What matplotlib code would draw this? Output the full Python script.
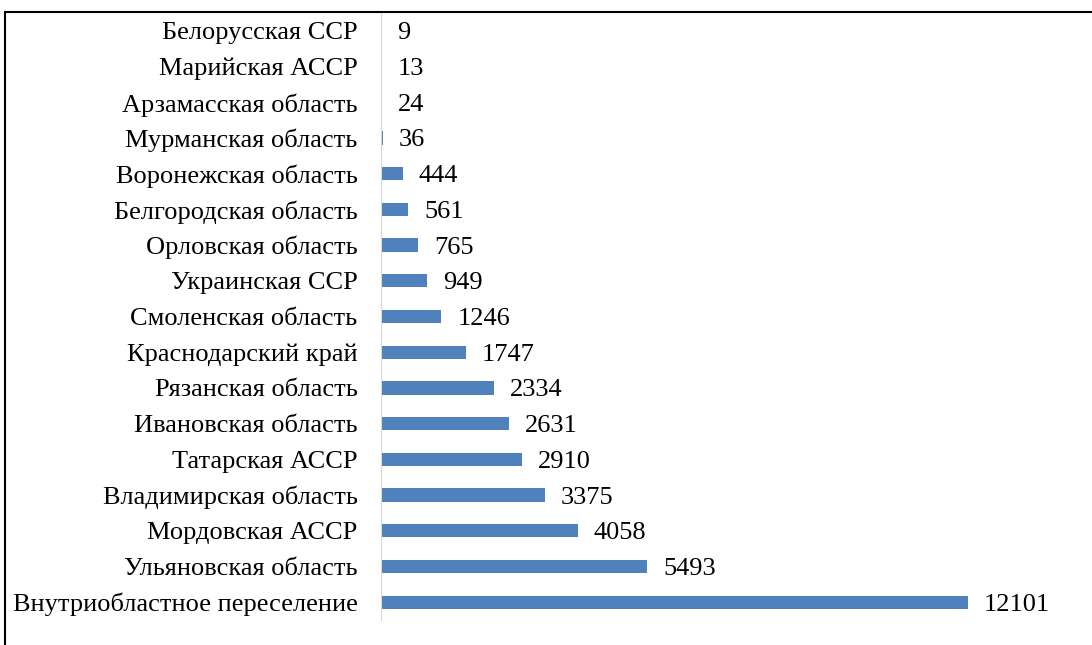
import matplotlib
matplotlib.use('Agg')
import matplotlib.pyplot as plt
from matplotlib.lines import Line2D

plt.rcParams['font.family'] = ['Liberation Serif', 'DejaVu Serif']

regions = ['Внутриобластное переселение', 'Ульяновская область', 'Мордовская АССР',
           'Владимирская область', 'Татарская АССР', 'Ивановская область',
           'Рязанская область', 'Краснодарский край', 'Смоленская область',
           'Украинская ССР', 'Орловская область', 'Белгородская область',
           'Воронежская область', 'Мурманская область', 'Арзамасская область',
           'Марийская АССР', 'Белорусская ССР']
values = [12101, 5493, 4058, 3375, 2910, 2631, 2334, 1747, 1246, 949, 765, 561,
          444, 36, 24, 13, 9]

fig = plt.figure(figsize=(10.92, 6.45), dpi=100)
ax = fig.add_axes([381/1092, 25/645, (1085-381)/1092, 607/645])

y = range(len(regions))
ax.barh(y, values, height=0.37, color='#4F81BD')
for i, v in enumerate(values):
    ax.text(v + 330, i, str(v), va='center_baseline', ha='left', fontsize=19)

ax.set_xlim(0, 14515)
ax.set_ylim(-0.5, len(regions) - 0.5)
ax.set_yticks(list(y))
ax.set_yticklabels(regions, fontsize=19, va='center_baseline')
ax.tick_params(axis='y', length=0, pad=17)
ax.set_xticks([])
for s in ['top', 'right', 'bottom']:
    ax.spines[s].set_visible(False)
ax.spines['left'].set_color('#D9D9D9')

# рамка
fig.add_artist(Line2D([5/1092, 1], [1 - 12/645, 1 - 12/645], transform=fig.transFigure,
                      color='black', lw=1.5))
fig.add_artist(Line2D([5/1092, 5/1092], [0, 1 - 12/645], transform=fig.transFigure,
                      color='black', lw=1.5))

fig.savefig('out.png', dpi=100)
